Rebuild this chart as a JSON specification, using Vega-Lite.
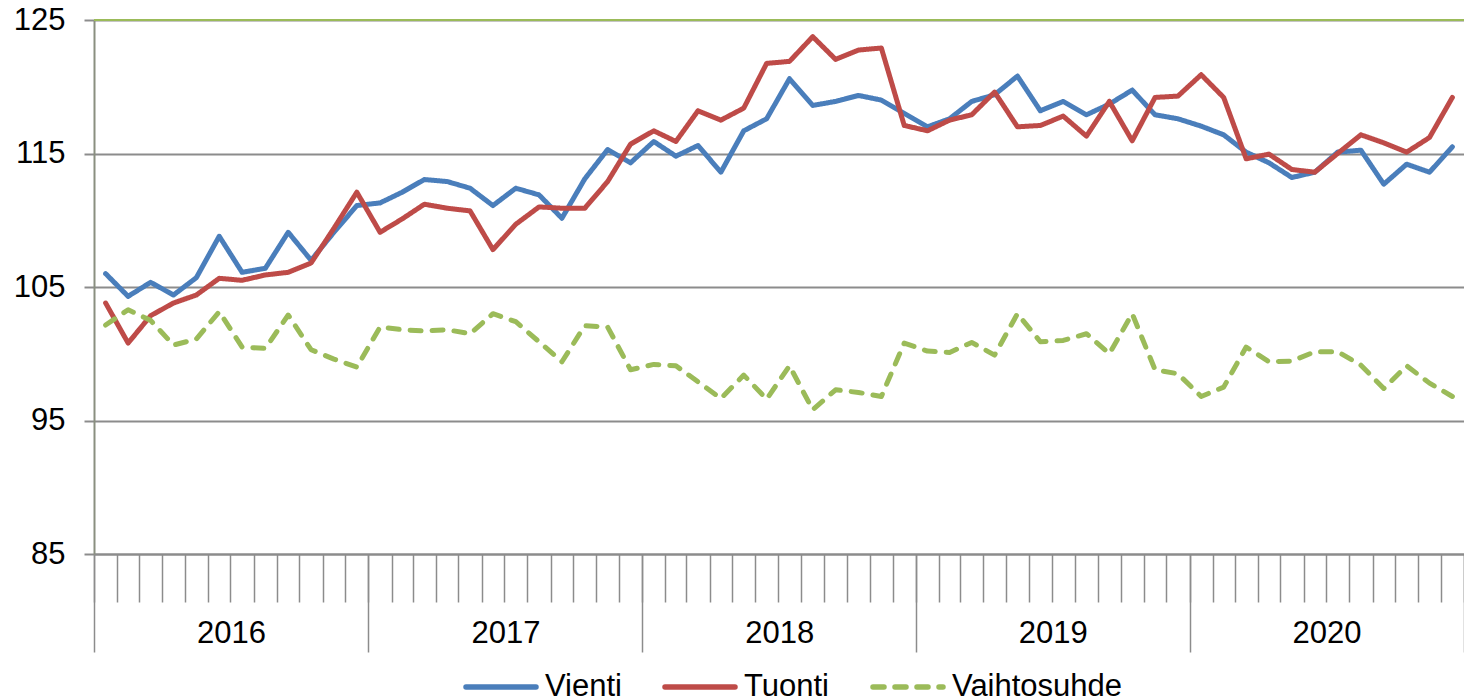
{
  "$schema": "https://vega.github.io/schema/vega-lite/v6.json",
  "width": 1370,
  "height": 534,
  "autosize": {"type": "none"},
  "padding": {"left": 94, "top": 20, "right": 0, "bottom": 146},
  "config": {"font": "Liberation Sans", "view": {"stroke": null}},
  "data": {
    "values": [
      {"date": "2016-01-01", "Vienti": 106.0, "Tuonti": 103.8, "Vaihtosuhde": 102.15},
      {"date": "2016-02-01", "Vienti": 104.3, "Tuonti": 100.8, "Vaihtosuhde": 103.3},
      {"date": "2016-03-01", "Vienti": 105.35, "Tuonti": 102.85, "Vaihtosuhde": 102.5},
      {"date": "2016-04-01", "Vienti": 104.4, "Tuonti": 103.8, "Vaihtosuhde": 100.65},
      {"date": "2016-05-01", "Vienti": 105.7, "Tuonti": 104.4, "Vaihtosuhde": 101.1},
      {"date": "2016-06-01", "Vienti": 108.8, "Tuonti": 105.65, "Vaihtosuhde": 103.15},
      {"date": "2016-07-01", "Vienti": 106.1, "Tuonti": 105.5, "Vaihtosuhde": 100.5},
      {"date": "2016-08-01", "Vienti": 106.4, "Tuonti": 105.9, "Vaihtosuhde": 100.4},
      {"date": "2016-09-01", "Vienti": 109.1, "Tuonti": 106.1, "Vaihtosuhde": 102.9},
      {"date": "2016-10-01", "Vienti": 107.0, "Tuonti": 106.8, "Vaihtosuhde": 100.3},
      {"date": "2016-11-01", "Vienti": 109.1, "Tuonti": 109.4, "Vaihtosuhde": 99.6},
      {"date": "2016-12-01", "Vienti": 111.1, "Tuonti": 112.1, "Vaihtosuhde": 99.0},
      {"date": "2017-01-01", "Vienti": 111.3, "Tuonti": 109.1, "Vaihtosuhde": 102.0},
      {"date": "2017-02-01", "Vienti": 112.1, "Tuonti": 110.1, "Vaihtosuhde": 101.8},
      {"date": "2017-03-01", "Vienti": 113.05, "Tuonti": 111.2, "Vaihtosuhde": 101.7},
      {"date": "2017-04-01", "Vienti": 112.9, "Tuonti": 110.9, "Vaihtosuhde": 101.8},
      {"date": "2017-05-01", "Vienti": 112.4, "Tuonti": 110.7, "Vaihtosuhde": 101.5},
      {"date": "2017-06-01", "Vienti": 111.1, "Tuonti": 107.8, "Vaihtosuhde": 103.0},
      {"date": "2017-07-01", "Vienti": 112.4, "Tuonti": 109.7, "Vaihtosuhde": 102.4},
      {"date": "2017-08-01", "Vienti": 111.9, "Tuonti": 111.0, "Vaihtosuhde": 100.9},
      {"date": "2017-09-01", "Vienti": 110.15, "Tuonti": 110.9, "Vaihtosuhde": 99.4},
      {"date": "2017-10-01", "Vienti": 113.1, "Tuonti": 110.9, "Vaihtosuhde": 102.1},
      {"date": "2017-11-01", "Vienti": 115.3, "Tuonti": 112.9, "Vaihtosuhde": 102.0},
      {"date": "2017-12-01", "Vienti": 114.3, "Tuonti": 115.7, "Vaihtosuhde": 98.8},
      {"date": "2018-01-01", "Vienti": 115.9, "Tuonti": 116.7, "Vaihtosuhde": 99.2},
      {"date": "2018-02-01", "Vienti": 114.8, "Tuonti": 115.9, "Vaihtosuhde": 99.1},
      {"date": "2018-03-01", "Vienti": 115.6, "Tuonti": 118.2, "Vaihtosuhde": 97.9},
      {"date": "2018-04-01", "Vienti": 113.6, "Tuonti": 117.5, "Vaihtosuhde": 96.65},
      {"date": "2018-05-01", "Vienti": 116.7, "Tuonti": 118.4, "Vaihtosuhde": 98.4},
      {"date": "2018-06-01", "Vienti": 117.6, "Tuonti": 121.75, "Vaihtosuhde": 96.6},
      {"date": "2018-07-01", "Vienti": 120.6, "Tuonti": 121.9, "Vaihtosuhde": 99.1},
      {"date": "2018-08-01", "Vienti": 118.6, "Tuonti": 123.75, "Vaihtosuhde": 95.8},
      {"date": "2018-09-01", "Vienti": 118.9, "Tuonti": 122.05, "Vaihtosuhde": 97.3},
      {"date": "2018-10-01", "Vienti": 119.35, "Tuonti": 122.75, "Vaihtosuhde": 97.1},
      {"date": "2018-11-01", "Vienti": 119.0, "Tuonti": 122.9, "Vaihtosuhde": 96.8},
      {"date": "2018-12-01", "Vienti": 118.0, "Tuonti": 117.1, "Vaihtosuhde": 100.8},
      {"date": "2019-01-01", "Vienti": 117.0, "Tuonti": 116.7, "Vaihtosuhde": 100.2},
      {"date": "2019-02-01", "Vienti": 117.6, "Tuonti": 117.5, "Vaihtosuhde": 100.1},
      {"date": "2019-03-01", "Vienti": 118.9, "Tuonti": 117.9, "Vaihtosuhde": 100.85},
      {"date": "2019-04-01", "Vienti": 119.4, "Tuonti": 119.6, "Vaihtosuhde": 99.9},
      {"date": "2019-05-01", "Vienti": 120.8, "Tuonti": 117.0, "Vaihtosuhde": 103.0},
      {"date": "2019-06-01", "Vienti": 118.2, "Tuonti": 117.1, "Vaihtosuhde": 100.9},
      {"date": "2019-07-01", "Vienti": 118.9, "Tuonti": 117.8, "Vaihtosuhde": 101.0},
      {"date": "2019-08-01", "Vienti": 117.9, "Tuonti": 116.3, "Vaihtosuhde": 101.5},
      {"date": "2019-09-01", "Vienti": 118.7, "Tuonti": 118.9, "Vaihtosuhde": 100.0},
      {"date": "2019-10-01", "Vienti": 119.75, "Tuonti": 115.95, "Vaihtosuhde": 103.0},
      {"date": "2019-11-01", "Vienti": 117.9, "Tuonti": 119.2, "Vaihtosuhde": 98.8},
      {"date": "2019-12-01", "Vienti": 117.6, "Tuonti": 119.3, "Vaihtosuhde": 98.5},
      {"date": "2020-01-01", "Vienti": 117.05, "Tuonti": 120.9, "Vaihtosuhde": 96.8},
      {"date": "2020-02-01", "Vienti": 116.4, "Tuonti": 119.2, "Vaihtosuhde": 97.5},
      {"date": "2020-03-01", "Vienti": 115.1, "Tuonti": 114.6, "Vaihtosuhde": 100.5},
      {"date": "2020-04-01", "Vienti": 114.3, "Tuonti": 114.95, "Vaihtosuhde": 99.4},
      {"date": "2020-05-01", "Vienti": 113.2, "Tuonti": 113.8, "Vaihtosuhde": 99.45},
      {"date": "2020-06-01", "Vienti": 113.6, "Tuonti": 113.6, "Vaihtosuhde": 100.15},
      {"date": "2020-07-01", "Vienti": 115.1, "Tuonti": 115.0, "Vaihtosuhde": 100.15},
      {"date": "2020-08-01", "Vienti": 115.25, "Tuonti": 116.4, "Vaihtosuhde": 99.15},
      {"date": "2020-09-01", "Vienti": 112.7, "Tuonti": 115.8, "Vaihtosuhde": 97.4},
      {"date": "2020-10-01", "Vienti": 114.2, "Tuonti": 115.1, "Vaihtosuhde": 99.1},
      {"date": "2020-11-01", "Vienti": 113.6, "Tuonti": 116.2, "Vaihtosuhde": 97.8},
      {"date": "2020-12-01", "Vienti": 115.5, "Tuonti": 119.2, "Vaihtosuhde": 96.8}
    ]
  },
  "layer": [
    {
      "transform": [{"fold": ["Vienti", "Tuonti", "Vaihtosuhde"], "as": ["series", "value"]}],
      "mark": {"type": "line", "strokeWidth": 5, "strokeJoin": "round", "strokeCap": "round"},
      "encoding": {
        "x": {
          "field": "date", "type": "temporal", "timeUnit": "utcyearmonth", "bandPosition": 0.5,
          "scale": {"type": "utc", "nice": false, "domain": [{"year": 2016, "month": 1, "date": 1, "utc": true}, {"year": 2021, "month": 1, "date": 1, "utc": true}]},
          "axis": {"orient": "bottom", "title": null, "labels": false, "grid": false, "domain": true, "domainColor": "#8c8c8c", "domainWidth": 2, "ticks": true, "tickSize": 48, "tickColor": "#8c8c8c", "tickWidth": 1.5, "tickCount": {"interval": "month", "step": 1}}
        },
        "y": {
          "field": "value", "type": "quantitative",
          "scale": {"domain": [85, 125], "nice": false, "zero": false},
          "axis": {"title": null, "values": [85, 95, 105, 115, 125], "grid": true, "gridColor": "#8c8c8c", "gridWidth": 2, "domain": true, "domainColor": "#8a8f80", "domainWidth": 2, "tickSize": 10, "tickColor": "#8c8c8c", "tickWidth": 2, "labelFontSize": 31, "labelColor": "#000000", "labelPadding": 19}
        },
        "color": {
          "field": "series", "type": "nominal",
          "scale": {"domain": ["Vienti", "Tuonti", "Vaihtosuhde"], "range": ["#4a7ebb", "#be4b48", "#9bbb59"]},
          "legend": {"title": null, "orient": "none", "legendX": 369, "legendY": 629, "direction": "horizontal", "symbolType": "stroke", "symbolSize": 4900, "symbolStrokeWidth": 5.5, "labelFontSize": 31, "labelColor": "#000000", "labelOffset": 6, "columnPadding": 32, "padding": 0, "labelLimit": 400, "encode": {"symbols": {"update": {"strokeCap": {"value": "round"}}}}}
        },
        "strokeDash": {
          "field": "series", "type": "nominal",
          "scale": {"domain": ["Vienti", "Tuonti", "Vaihtosuhde"], "range": [[1, 0], [1, 0], [11, 11]]},
          "legend": {"title": null, "orient": "none", "legendX": 369, "legendY": 629, "direction": "horizontal", "symbolType": "stroke", "symbolSize": 4900, "symbolStrokeWidth": 5.5, "labelFontSize": 31, "labelColor": "#000000", "labelOffset": 6, "columnPadding": 32, "padding": 0, "labelLimit": 400, "encode": {"symbols": {"update": {"strokeCap": {"value": "round"}}}}}
        }
      }
    },
    {
      "data": {"values": [{"top": 125}]},
      "mark": {"type": "rule", "color": "#9bbb59", "strokeWidth": 2},
      "encoding": {
        "x": {
          "datum": {"year": 2016, "month": 1, "date": 1, "utc": true}, "type": "temporal",
          "scale": {"type": "utc", "nice": false, "domain": [{"year": 2016, "month": 1, "date": 1, "utc": true}, {"year": 2021, "month": 1, "date": 1, "utc": true}]},
          "axis": {"orient": "bottom", "title": null, "values": [{"year": 2016, "month": 1, "date": 1, "utc": true}, {"year": 2017, "month": 1, "date": 1, "utc": true}, {"year": 2018, "month": 1, "date": 1, "utc": true}, {"year": 2019, "month": 1, "date": 1, "utc": true}, {"year": 2020, "month": 1, "date": 1, "utc": true}, {"year": 2021, "month": 1, "date": 1, "utc": true}], "tickSize": 98, "tickColor": "#8c8c8c", "tickWidth": 1.5, "domain": false, "grid": false, "labelOffset": 137, "labelFlush": false, "labelOverlap": false, "labelFontSize": 31, "labelColor": "#000000", "labelBaseline": "middle", "labelPadding": -19, "labelExpr": "utcyear(datum.value) < 2021 ? '' + utcyear(datum.value) : ''"}
        },
        "x2": {"datum": {"year": 2021, "month": 1, "date": 1, "utc": true}},
        "y": {
          "field": "top", "type": "quantitative",
          "scale": {"domain": [85, 125], "nice": false, "zero": false},
          "axis": {"title": null, "values": [85, 95, 105, 115, 125], "grid": true, "gridColor": "#8c8c8c", "gridWidth": 2, "domain": true, "domainColor": "#8a8f80", "domainWidth": 2, "tickSize": 10, "tickColor": "#8c8c8c", "tickWidth": 2, "labelFontSize": 31, "labelColor": "#000000", "labelPadding": 19}
        }
      }
    }
  ],
  "resolve": {"axis": {"x": "independent"}}
}
